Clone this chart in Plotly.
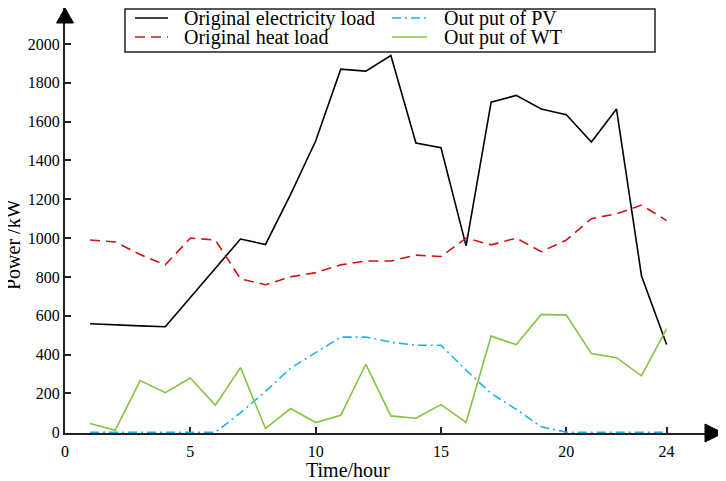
import plotly.graph_objects as go

hours = list(range(1, 25))

electricity_load = [559, 555, 548, 543, 695, 842, 995, 967, 1225, 1500, 1870, 1860, 1940, 1490, 1465, 960,
                    1700, 1735, 1665, 1635, 1495, 1665, 805, 452]
heat_load = [990, 980, 915, 862, 1000, 990, 790, 760, 800, 822, 862, 882, 882, 912, 905, 1000,
             965, 1000, 930, 990, 1100, 1125, 1170, 1090]
pv_output = [0, 0, 0, 0, 0, 0, 100, 210, 330, 410, 490, 490, 464, 448, 448, 320,
             200, 118, 28, 0, 0, 0, 0, 0]
wt_output = [45, 10, 266, 204, 279, 139, 333, 19, 122, 50, 87, 350, 84, 72, 142, 50,
             495, 451, 607, 603, 405, 384, 290, 533]

x_ticks = [0, 5, 10, 15, 20, 24]
y_ticks = list(range(0, 2001, 200))

serif = "Liberation Serif"

# page has an 8px body margin, so the figure is a bit smaller than the window
W, H = 718, 473
L, R, T, B = 57, 3, 0, 48
pw, ph = W - L - R, H - T - B


def px_x(p):
    return (p - L) / pw


def px_y(p):
    return (H - B - p) / ph


series = [
    ("Original electricity load", electricity_load, dict(color="black", width=1.6)),
    ("Out put of PV", pv_output, dict(color="#16b4ee", width=1.6, dash="9px,4px,2px,4px")),
    ("Original heat load", heat_load, dict(color="#cc1414", width=1.6, dash="10px,6px")),
    ("Out put of WT", wt_output, dict(color="#84c441", width=1.6)),
]

fig = go.Figure()
for name, values, line in series:
    fig.add_trace(go.Scatter(x=hours, y=values, mode="lines", name=name, line=line, showlegend=False))

axis_style = dict(
    showline=True, linecolor="#222", linewidth=2, layer="below traces",
    ticks="inside", ticklen=6, tickwidth=1.5, tickcolor="#222",
    showgrid=False, zeroline=False,
    tickfont=dict(family=serif, size=16, color="black"),
)
fig.update_xaxes(range=[0, 26.25], tickvals=x_ticks, ticklabelstandoff=3, **axis_style)
fig.update_yaxes(range=[-4, 2185], tickvals=y_ticks, **axis_style)

# arrow heads on the axes
ax, ay = 8.5 / pw, 15 / ph
bx, by = 18 / pw, 9 / ph
fig.add_shape(type="path", xref="paper", yref="paper",
              path=f"M {-ax} {1 - ay} L 0 1 L {ax} {1 - ay} Z",
              fillcolor="black", line=dict(color="black", width=1))
fig.add_shape(type="path", xref="paper", yref="paper",
              path=f"M {1 - bx} {by} L 1 0 L {1 - bx} {-by} Z",
              fillcolor="black", line=dict(color="black", width=1))

# legend box, drawn by hand to keep the rows tight (two columns, two rows)
fig.add_shape(type="rect", xref="paper", yref="paper",
              x0=px_x(117), x1=px_x(647), y0=px_y(1), y1=px_y(44),
              fillcolor="white", line=dict(color="#222", width=1.5), layer="above")
rows = [10, 10, 29, 29]
line_x = [(127, 160), (384, 419), (127, 160), (384, 419)]
text_x = [174, 434, 174, 434]
for (name, _, line), ry, (lx0, lx1), tx in zip(series, rows, line_x, text_x):
    fig.add_shape(type="line", xref="paper", yref="paper",
                  x0=px_x(lx0), x1=px_x(lx1), y0=px_y(ry), y1=px_y(ry),
                  line=line, layer="above")
    fig.add_annotation(text=name, xref="paper", yref="paper", x=px_x(tx), y=px_y(ry + 1),
                       xanchor="left", yanchor="middle", showarrow=False,
                       font=dict(family=serif, size=20, color="black"))

fig.add_annotation(text="Time/hour", xref="paper", yref="paper",
                   x=px_x(340), y=px_y(462), xanchor="center", yanchor="middle", showarrow=False,
                   font=dict(family=serif, size=20, color="black"))
fig.add_annotation(text="Power /kW", xref="paper", yref="paper", textangle=-90,
                   x=px_x(5), y=px_y(237), xanchor="center", yanchor="middle", showarrow=False,
                   font=dict(family=serif, size=20, color="black"))

fig.update_layout(
    width=W, height=H,
    margin=dict(l=L, r=R, t=T, b=B),
    plot_bgcolor="white", paper_bgcolor="white",
)

fig.write_html("out.html")
